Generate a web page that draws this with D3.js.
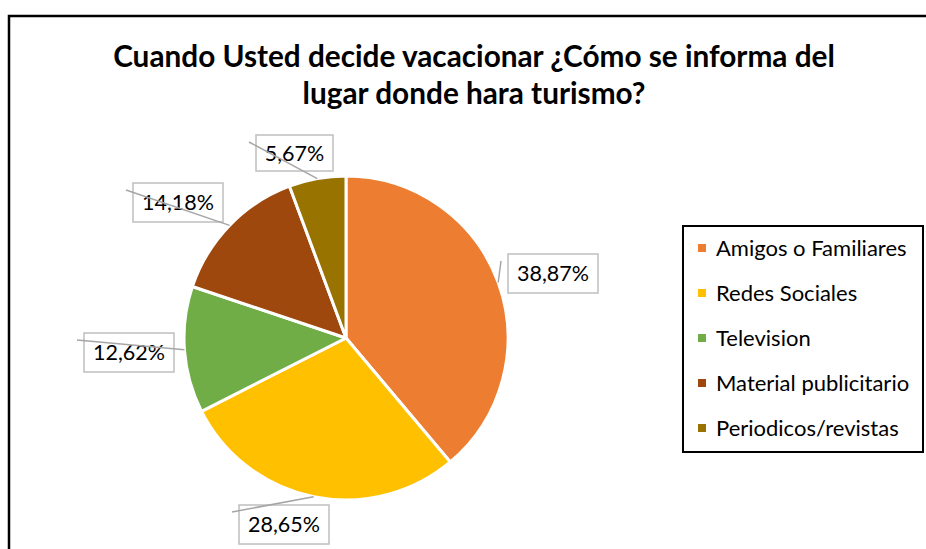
<!DOCTYPE html>
<html>
<head>
<meta charset="utf-8">
<script src="https://cdn.jsdelivr.net/npm/d3@7"></script>
<style>
  body { margin: 0; background: #fff; }
  text { font-family: Lato, "Open Sans", sans-serif; }
</style>
</head>
<body>
<div id="chart"></div>
<script>
// chart values
var categories = ['Amigos o Familiares', 'Redes Sociales', 'Television', 'Material publicitario', 'Periodicos/revistas'];
var shares = [38.87, 28.65, 12.62, 14.18, 5.67];
var valueLabels = ['38,87%', '28,65%', '12,62%', '14,18%', '5,67%'];
var titleLines = ['Cuando Usted decide vacacionar ¿Cómo se informa del', 'lugar donde hara turismo?'];

var colors = ['#ED7D31', '#FFC000', '#70AD47', '#9E480E', '#997300'];

// where each label box was dragged to (top-left, relative to pie center)
var labelOffsets = [[162, -84], [-107, 167], [-262, -5], [-213, -155], [-90, -203]];

var width = 926, height = 549;
var cx = 346, cy = 338, r = 162;

var svg = d3.select('#chart')
    .append('svg')
    .attr('width', width)
    .attr('height', height);

// outer chart border (right/bottom run off the picture)
svg.append('rect')
    .attr('x', 9).attr('y', 16)
    .attr('width', 940).attr('height', 560)
    .attr('fill', 'none')
    .attr('stroke', '#000')
    .attr('stroke-width', 2.5);

// title
var title = svg.append('g');
title.selectAll('text')
    .data(titleLines)
    .enter()
    .append('text')
    .attr('x', 474)
    .attr('y', (d, i) => 67 + i * 37)
    .attr('text-anchor', 'middle')
    .attr('font-weight', 'bold')
    .attr('font-size', 28)
    .attr('fill', '#000')
    .text(d => d);

// fit first title line to the reference width
var t0 = title.select('text').node();
var fs = 28 * 722 / t0.getComputedTextLength();
title.selectAll('text').attr('font-size', fs);

var pie = d3.pie().sort(null).value(d => d);
var arcs = pie(shares);
var arc = d3.arc().innerRadius(0).outerRadius(r);

var pieG = svg.append('g').attr('transform', `translate(${cx},${cy})`);

pieG.selectAll('path')
    .data(arcs)
    .enter()
    .append('path')
    .attr('d', arc)
    .attr('fill', (d, i) => colors[i])
    .attr('stroke', '#fff')
    .attr('stroke-width', 3)
    .attr('stroke-linejoin', 'round');

// data labels
var boxW = 90, boxH = 39;
var labels = pieG.selectAll('.lbl')
    .data(arcs)
    .enter()
    .append('g')
    .attr('class', 'lbl');

labels.append('rect')
    .attr('x', (d, i) => labelOffsets[i][0])
    .attr('y', (d, i) => labelOffsets[i][1])
    .attr('width', (d, i) => valueLabels[i].length > 5 ? boxW : 77)
    .attr('height', (d, i) => valueLabels[i].length > 5 ? boxH : 36)
    .attr('fill', '#fff')
    .attr('stroke', '#bfbfbf')
    .attr('stroke-width', 1.5);

labels.append('text')
    .attr('x', (d, i) => labelOffsets[i][0] + (valueLabels[i].length > 5 ? boxW : 77) / 2)
    .attr('y', (d, i) => labelOffsets[i][1] + (valueLabels[i].length > 5 ? boxH : 36) / 2 + 7.5)
    .attr('text-anchor', 'middle')
    .attr('font-size', 21.5)
    .attr('fill', '#000')
    .text((d, i) => valueLabels[i]);

var edge = d3.arc().innerRadius(r).outerRadius(r);
labels.append('line')
    .attr('x1', d => edge.centroid(d)[0])
    .attr('y1', d => edge.centroid(d)[1])
    .attr('x2', (d, i) => labelOffsets[i][0] - 7)
    .attr('y2', (d, i) => labelOffsets[i][1] + 7)
    .attr('stroke', '#a6a6a6')
    .attr('stroke-width', 1.5);

// legend
var legend = svg.append('g').attr('transform', 'translate(683,226)');
legend.append('rect')
    .attr('width', 240).attr('height', 226)
    .attr('fill', '#fff')
    .attr('stroke', '#000')
    .attr('stroke-width', 2);

var items = legend.selectAll('.item')
    .data(categories)
    .enter()
    .append('g')
    .attr('class', 'item')
    .attr('transform', (d, i) => `translate(0,${22 + i * 45})`);

items.append('rect')
    .attr('x', 15).attr('y', -4)
    .attr('width', 8).attr('height', 8)
    .attr('fill', (d, i) => colors[i]);

items.append('text')
    .attr('x', 33)
    .attr('y', 7.5)
    .attr('font-size', 22)
    .attr('fill', '#000')
    .text(d => d);
</script>
</body>
</html>
